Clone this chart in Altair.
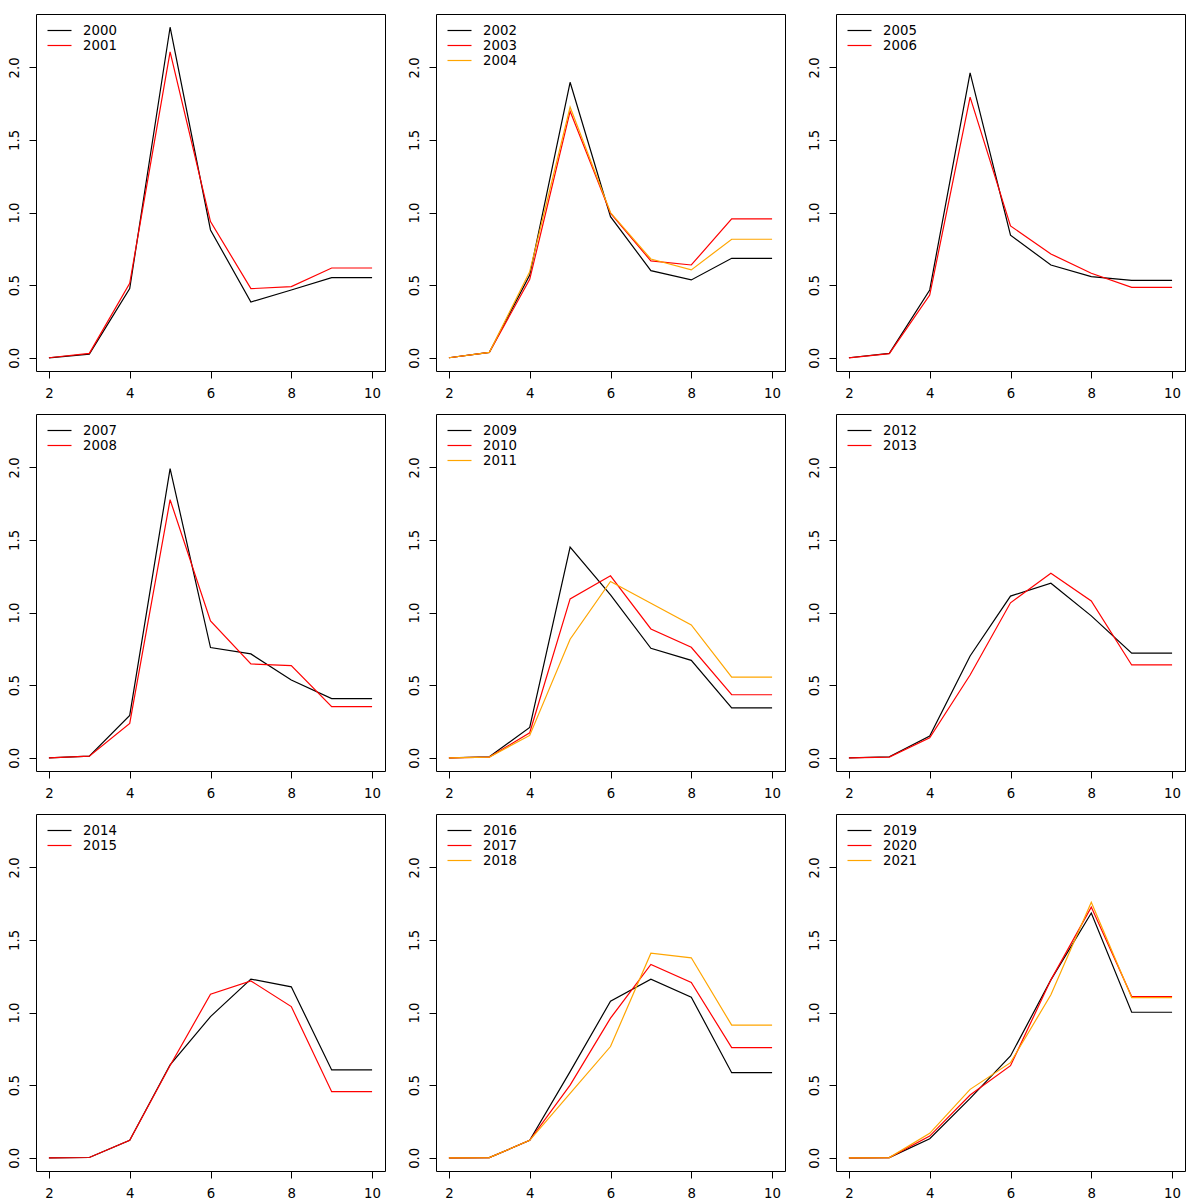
import altair as alt
import pandas as pd

AGES = [2, 3, 4, 5, 6, 7, 8, 9, 10]

Y2000 = [0.0, 0.025, 0.476, 2.276, 0.880, 0.384, 0.467, 0.552, 0.552]
Y2001 = [0.0, 0.030, 0.513, 2.106, 0.938, 0.476, 0.490, 0.618, 0.618]
Y2002 = [0.0, 0.037, 0.570, 1.897, 0.972, 0.600, 0.536, 0.685, 0.685]
Y2003 = [0.0, 0.037, 0.540, 1.697, 0.995, 0.667, 0.639, 0.956, 0.956]
Y2004 = [0.0, 0.037, 0.593, 1.726, 1.000, 0.680, 0.605, 0.816, 0.816]
Y2005 = [0.0, 0.030, 0.467, 1.961, 0.844, 0.639, 0.559, 0.533, 0.533]
Y2006 = [0.0, 0.028, 0.432, 1.795, 0.908, 0.715, 0.582, 0.485, 0.485]
Y2007 = [0.0, 0.011, 0.292, 1.991, 0.759, 0.715, 0.536, 0.407, 0.407]
Y2008 = [0.0, 0.011, 0.237, 1.777, 0.943, 0.646, 0.634, 0.352, 0.352]
Y2009 = [0.0, 0.007, 0.209, 1.451, 1.122, 0.754, 0.671, 0.343, 0.343]
Y2010 = [0.0, 0.005, 0.172, 1.094, 1.253, 0.887, 0.761, 0.434, 0.434]
Y2011 = [0.0, 0.005, 0.154, 0.816, 1.214, 1.064, 0.915, 0.556, 0.556]
Y2012 = [0.0, 0.007, 0.149, 0.701, 1.113, 1.202, 0.977, 0.720, 0.720]
Y2013 = [0.0, 0.005, 0.138, 0.570, 1.067, 1.271, 1.080, 0.639, 0.639]
Y2014 = [0.0, 0.002, 0.120, 0.640, 0.972, 1.230, 1.177, 0.605, 0.605]
Y2015 = [0.0, 0.002, 0.120, 0.635, 1.126, 1.218, 1.041, 0.455, 0.455]
Y2016 = [0.0, 0.001, 0.120, 0.593, 1.078, 1.230, 1.106, 0.586, 0.586]
Y2017 = [0.0, 0.001, 0.120, 0.500, 0.961, 1.331, 1.207, 0.759, 0.759]
Y2018 = [0.0, 0.001, 0.120, 0.444, 0.766, 1.409, 1.377, 0.913, 0.913]
Y2019 = [0.0, 0.001, 0.131, 0.409, 0.701, 1.225, 1.685, 1.002, 1.002]
Y2020 = [0.0, 0.001, 0.149, 0.432, 0.634, 1.225, 1.726, 1.110, 1.110]
Y2021 = [0.0, 0.001, 0.168, 0.471, 0.655, 1.122, 1.759, 1.103, 1.103]

SERIES = {
    "2000": Y2000, "2001": Y2001, "2002": Y2002, "2003": Y2003, "2004": Y2004,
    "2005": Y2005, "2006": Y2006, "2007": Y2007, "2008": Y2008, "2009": Y2009,
    "2010": Y2010, "2011": Y2011, "2012": Y2012, "2013": Y2013, "2014": Y2014,
    "2015": Y2015, "2016": Y2016, "2017": Y2017, "2018": Y2018, "2019": Y2019,
    "2020": Y2020, "2021": Y2021,
}

PANELS = [
    ["2000", "2001"], ["2002", "2003", "2004"], ["2005", "2006"],
    ["2007", "2008"], ["2009", "2010", "2011"], ["2012", "2013"],
    ["2014", "2015"], ["2016", "2017", "2018"], ["2019", "2020", "2021"],
]
COLORS = ["black", "red", "orange"]
X_TICKS = [2, 4, 6, 8, 10]
Y_TICKS = [0.0, 0.5, 1.0, 1.5, 2.0]

YMAX = max(max(v) for v in SERIES.values())
X_DOMAIN = [2 - 0.04 * 8, 10 + 0.04 * 8]
Y_DOMAIN = [-0.04 * YMAX, YMAX * 1.04]

FONT = "DejaVu Sans"
FS = 13.3


def panel(years):
    rows = []
    for yr in years:
        for a, v in zip(AGES, SERIES[yr]):
            rows.append({"age": a, "value": v, "year": yr})
    df = pd.DataFrame(rows)
    return (
        alt.Chart(df)
        .mark_line(strokeWidth=1.2, clip=True)
        .encode(
            x=alt.X(
                "age:Q",
                scale=alt.Scale(domain=X_DOMAIN, nice=False, zero=False),
                axis=alt.Axis(values=X_TICKS, title=None, labelPadding=8),
            ),
            y=alt.Y(
                "value:Q",
                scale=alt.Scale(domain=Y_DOMAIN, nice=False, zero=False),
                axis=alt.Axis(
                    values=Y_TICKS, format=".1f", title=None, labelAngle=270,
                    labelAlign="center", labelBaseline="bottom", labelPadding=8,
                ),
            ),
            color=alt.Color(
                "year:N",
                scale=alt.Scale(domain=years, range=COLORS[: len(years)]),
                legend=alt.Legend(
                    title=None, orient="none", legendX=15, legendY=8,
                    symbolType="M-1.6,0H1.6", symbolSize=225,
                    symbolStrokeWidth=1.2, labelOffset=15, padding=0,
                    rowPadding=0, labelFont=FONT, labelFontSize=FS,
                    labelColor="black",
                ),
            ),
            order=alt.Order("age:Q"),
        )
        .properties(width=349, height=357)
    )


rows = []
for i in range(3):
    rows.append(
        alt.hconcat(*[panel(p) for p in PANELS[3 * i: 3 * i + 3]], spacing=20)
        .resolve_scale(color="independent")
    )

chart = (
    alt.vconcat(*rows, spacing=13)
    .resolve_scale(color="independent")
    .properties(padding={"left": -2, "top": 5, "right": 0, "bottom": 0})
    .configure(background="white")
    .configure_view(stroke="black", strokeWidth=1)
    .configure_axis(
        grid=False, domain=False, ticks=True, tickColor="black", tickSize=7,
        tickWidth=1, labelColor="black", labelFont=FONT, labelFontSize=FS,
    )
)

chart.save("out.html", embed_options={"renderer": "svg", "actions": False})
